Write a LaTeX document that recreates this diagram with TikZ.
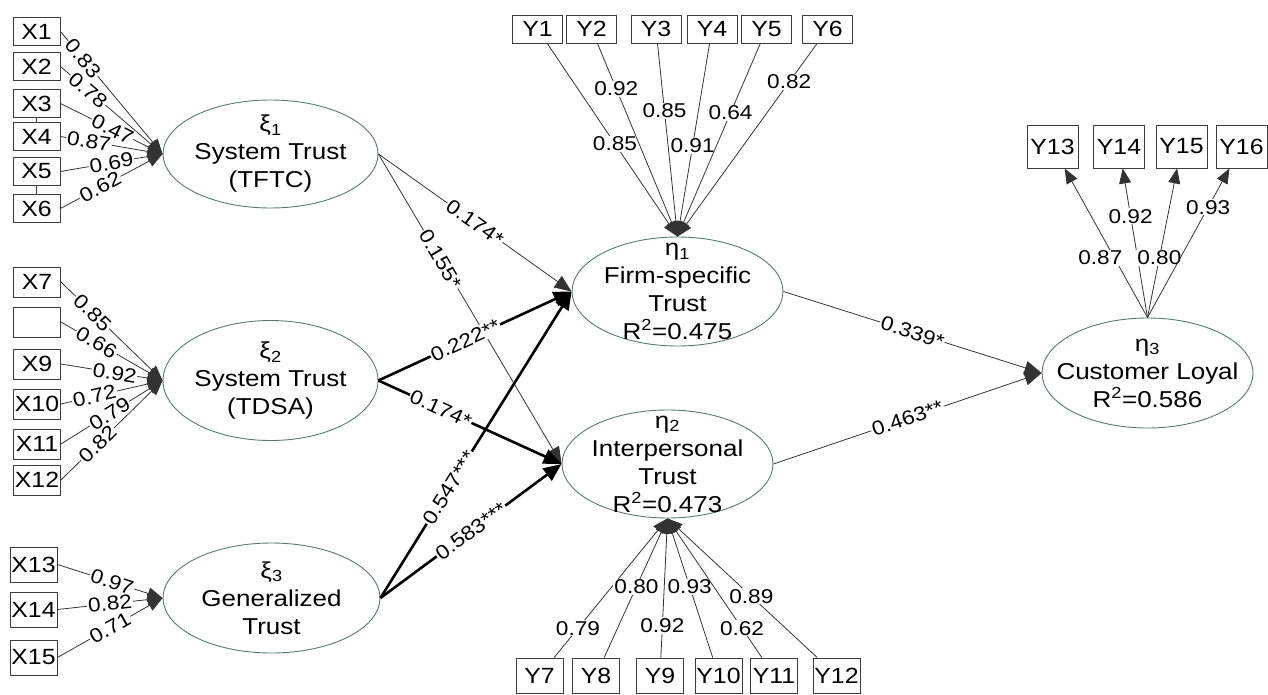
\documentclass[tikz,border=0pt]{standalone}
\usepackage{fontspec}
\setmainfont{Liberation Sans}[FakeStretch=1.13]
\usetikzlibrary{arrows.meta}
\usetikzlibrary{shapes.geometric}
\definecolor{ellline}{RGB}{84,125,105}
\definecolor{boxline}{RGB}{60,60,60}
\tikzset{ind/.style={draw=boxline, line width=0.9pt, inner sep=0pt, minimum width=47pt, minimum height=28pt, font=\fontsize{22}{24}\selectfont},
  lv/.style={ellipse, draw=ellline, line width=0.9pt, inner sep=0pt, minimum width=212pt, minimum height=110pt},
  lvtext/.style={align=center, font=\fontsize{23}{28}\selectfont},
  load/.style={draw=black!80, line width=0.8pt, -{Triangle[length=15pt,width=12pt]}},
  effect/.style={draw=black!80, line width=0.8pt, -{Triangle[length=17pt,width=14pt]}},
  effectbold/.style={draw=black, line width=2.6pt, -{Triangle[length=18pt,width=15pt]}},
  wt/.style={fill=white, inner sep=1pt, font=\fontsize{20}{22}\selectfont}}

\begin{document}
\begin{tikzpicture}[x=1pt, y=-1pt]
  \useasboundingbox (0,0) rectangle (1268,695);

  % latent variables
  \node[lv, minimum width=215pt, minimum height=108pt] (xi1) at (270.5,154) {};
  \node[lvtext] at (xi1) {ξ\textsubscript{1}\\System Trust\\(TFTC)};
  \node[lv, minimum width=215pt, minimum height=120pt] (xi2) at (270.5,380.5) {};
  \node[lvtext] at (xi2) {ξ\textsubscript{2}\\System Trust\\(TDSA)};
  \node[lv, minimum width=217pt] (xi3) at (271.5,598) {};
  \node[lvtext] at (xi3) {ξ\textsubscript{3}\\Generalized\\Trust};
  \node[lv, minimum width=211pt, minimum height=109pt] (eta1) at (677.5,291.5) {};
  \node[lvtext] at (eta1) {η\textsubscript{1}\\Firm-specific\\Trust\\R\textsuperscript{2}=0.475};
  \node[lv, minimum width=211pt, minimum height=108pt] (eta2) at (667.5,464) {};
  \node[lvtext] at (eta2) {η\textsubscript{2}\\Interpersonal\\Trust\\R\textsuperscript{2}=0.473};
  \node[lv, minimum width=211pt] (eta3) at (1147.5,373) {};
  \node[lvtext] at (eta3) {η\textsubscript{3}\\Customer Loyal\\R\textsuperscript{2}=0.586};

  % indicators
  \foreach \i/\yy/\t in {1/31.5/X1, 2/66.5/X2, 3/103.5/X3, 4/136.5/X4, 5/171.5/X5, 6/208.5/X6}{
    \node[ind] (x\i) at (36.5,\yy) {\t};
  }
  \foreach \i/\yy/\t in {7/282/X7, 8/322/{}, 9/364/X9, 10/404/X10, 11/444/X11, 12/480/X12}{
    \node[ind, minimum height=30pt] (x\i) at (37,\yy) {\t};
  }
  \foreach \i/\yy in {13/564.5, 14/609.5, 15/657.5}{
    \node[ind, minimum height=35pt] (x\i) at (33.5,\yy) {X\i};
  }
  \draw[boxline, line width=0.9pt] (x3.south) -- (x4.north);
  \draw[boxline, line width=0.9pt] (x5.south) -- (x6.north);

  \foreach \i/\xx in {1/537.5, 2/591.5, 3/656, 4/712, 5/766.5, 6/827.5}{
    \node[ind, minimum width=50pt] (y\i) at (\xx,29) {Y\i};
  }
  \foreach \i/\xx in {7/539.5, 8/596, 9/660, 10/718.5, 11/774, 12/836.5}{
    \node[ind, minimum height=35pt] (y\i) at (\xx,675.5) {Y\i};
  }
  \foreach \i/\xx in {13/1052.5, 14/1119, 15/1181.5, 16/1241.5}{
    \node[ind, minimum width=51pt, minimum height=43pt] (y\i) at (\xx,146.5) {Y\i};
  }

  % loadings
  \foreach \i/\v/\p in {1/0.83/0.22, 2/0.78/0.27, 3/0.47/0.51, 4/0.87/0.28, 5/0.69/0.5, 6/0.62/0.39}{
    \draw[load] (x\i.east) -- node[wt, sloped, pos=\p] {\v} (xi1.west);
  }
  \foreach \i/\v/\p in {7/0.85/0.31, 8/0.66/0.35, 9/0.92/0.53, 10/0.72/0.33, 11/0.79/0.48, 12/0.82/0.36}{
    \draw[load] (x\i.east) -- node[wt, sloped, pos=\p] {\v} (xi2.west);
  }
  \foreach \i/\v/\p in {13/0.97/0.52, 14/0.82/0.5, 15/0.71/0.5}{
    \draw[load] (x\i.east) -- node[wt, sloped, pos=\p] {\v} (xi3.west);
  }
  \foreach \i/\v/\p in {1/0.85/0.52, 2/0.92/0.235, 3/0.85/0.35, 4/0.91/0.53, 5/0.64/0.36, 6/0.82/0.2}{
    \draw[load] (y\i) -- node[wt, pos=\p] {\v} (eta1.north);
  }
  \foreach \i/\v/\p in {7/0.79/0.21, 8/0.80/0.51, 9/0.92/0.23, 10/0.93/0.51, 11/0.62/0.21, 12/0.89/0.44}{
    \draw[load] (y\i) -- node[wt, pos=\p] {\v} (eta2.south);
  }
  \foreach \i/\v/\p/\s in {13/0.87/0.4/-14, 14/0.92/0.68/0, 15/0.80/0.4/0, 16/0.93/0.74/0}{
    \draw[load] (eta3.north) -- node[wt, pos=\p, xshift=\s pt] {\v} (y\i);
  }

  % structural paths
  \draw[effect] (xi1.east) -- node[wt, sloped, pos=0.5] {0.174*} (eta1.west);
  \draw[effect] (xi1.east) -- node[wt, sloped, pos=0.34] {0.155*} (eta2.west);
  \draw[effectbold] (xi2.east) -- node[wt, sloped, pos=0.45] {0.222**} (eta1.west);
  \draw[effectbold] (xi2.east) -- node[wt, sloped, pos=0.34] {0.174*} (eta2.west);
  \draw[effectbold] (xi3.east) -- node[wt, sloped, pos=0.36] {0.547***} (eta1.west);
  \draw[effectbold] (xi3.east) -- node[wt, sloped, pos=0.5] {0.583***} (eta2.west);
  \draw[effect] (eta1.east) -- node[wt, sloped, pos=0.5] {0.339*} (eta3.west);
  \draw[effect] (eta2.east) -- node[wt, sloped, pos=0.5] {0.463**} (eta3.west);
\end{tikzpicture}
\end{document}
